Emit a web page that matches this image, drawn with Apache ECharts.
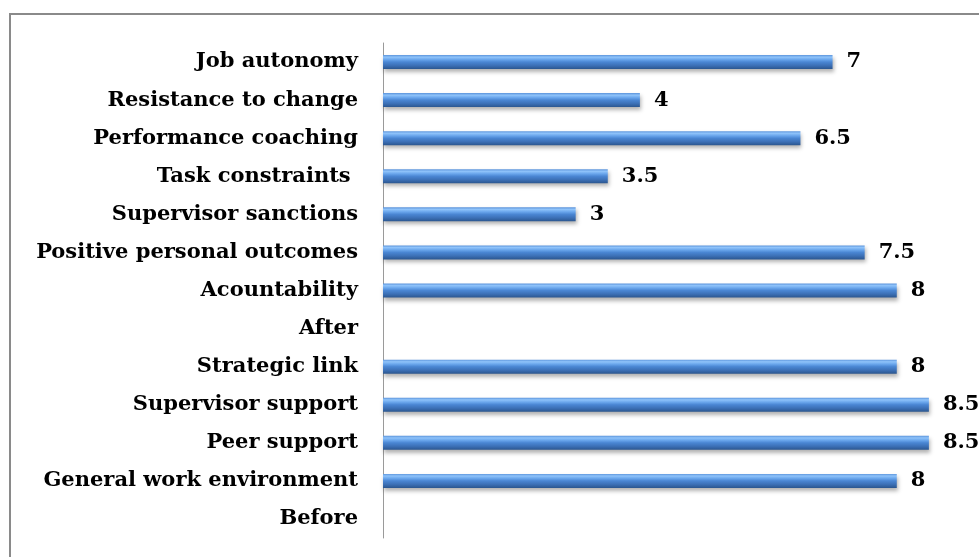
<!DOCTYPE html>
<html><head><meta charset="utf-8">
<script src="https://cdn.jsdelivr.net/npm/echarts@6/dist/echarts.min.js"></script>
<style>html,body{margin:0;padding:0;background:#fff}#c{width:979px;height:557px}</style>
</head><body><div id="c"></div>
<script>
const categories = ["Before","General work environment","Peer support","Supervisor support","Strategic link","After","Acountability","Positive personal outcomes","Supervisor sanctions","Task constraints ","Performance coaching","Resistance to change","Job autonomy"];
const values = [null, 8, 8.5, 8.5, 8, null, 8, 7.5, 3, 3.5, 6.5, 4, 7];

const chart = echarts.init(document.getElementById('c'));
const font = '"DejaVu Serif", serif';
chart.setOption({
  animation: false,
  graphic: [{type:'rect', shape:{x:10,y:14,width:1000,height:600}, style:{fill:'none', stroke:'#8a8a8a', lineWidth:2}}],
  grid: {left:383, right:18, top:43, bottom:19, containLabel:false},
  xAxis: {type:'value', min:0, max:9, show:false},
  yAxis: {type:'category', data:categories,
    axisLine:{lineStyle:{color:'#9a9a9a', width:1}}, axisTick:{show:false},
    axisLabel:{color:'#000', fontFamily:font, fontWeight:'bold', fontSize:21, margin:25}},
  series: [{type:'bar', data:values, barWidth:14,
    itemStyle:{
      color:{type:'linear', x:0,y:0,x2:0,y2:1, colorStops:[
        {offset:0,color:'#5d95dc'},{offset:0.15,color:'#8fc3fa'},{offset:0.32,color:'#6aa6ec'},
        {offset:0.5,color:'#4a86d3'},{offset:0.75,color:'#3c70b6'},{offset:1,color:'#2b568f'}]},
      shadowColor:'rgba(0,0,0,0.3)', shadowBlur:4, shadowOffsetY:3, shadowOffsetX:1},
    label:{show:true, position:'right', distance:14, color:'#000', fontFamily:font, fontWeight:'bold', fontSize:21,
      formatter: p => p.value == null ? '' : String(p.value)}
  }]
});
</script></body></html>
